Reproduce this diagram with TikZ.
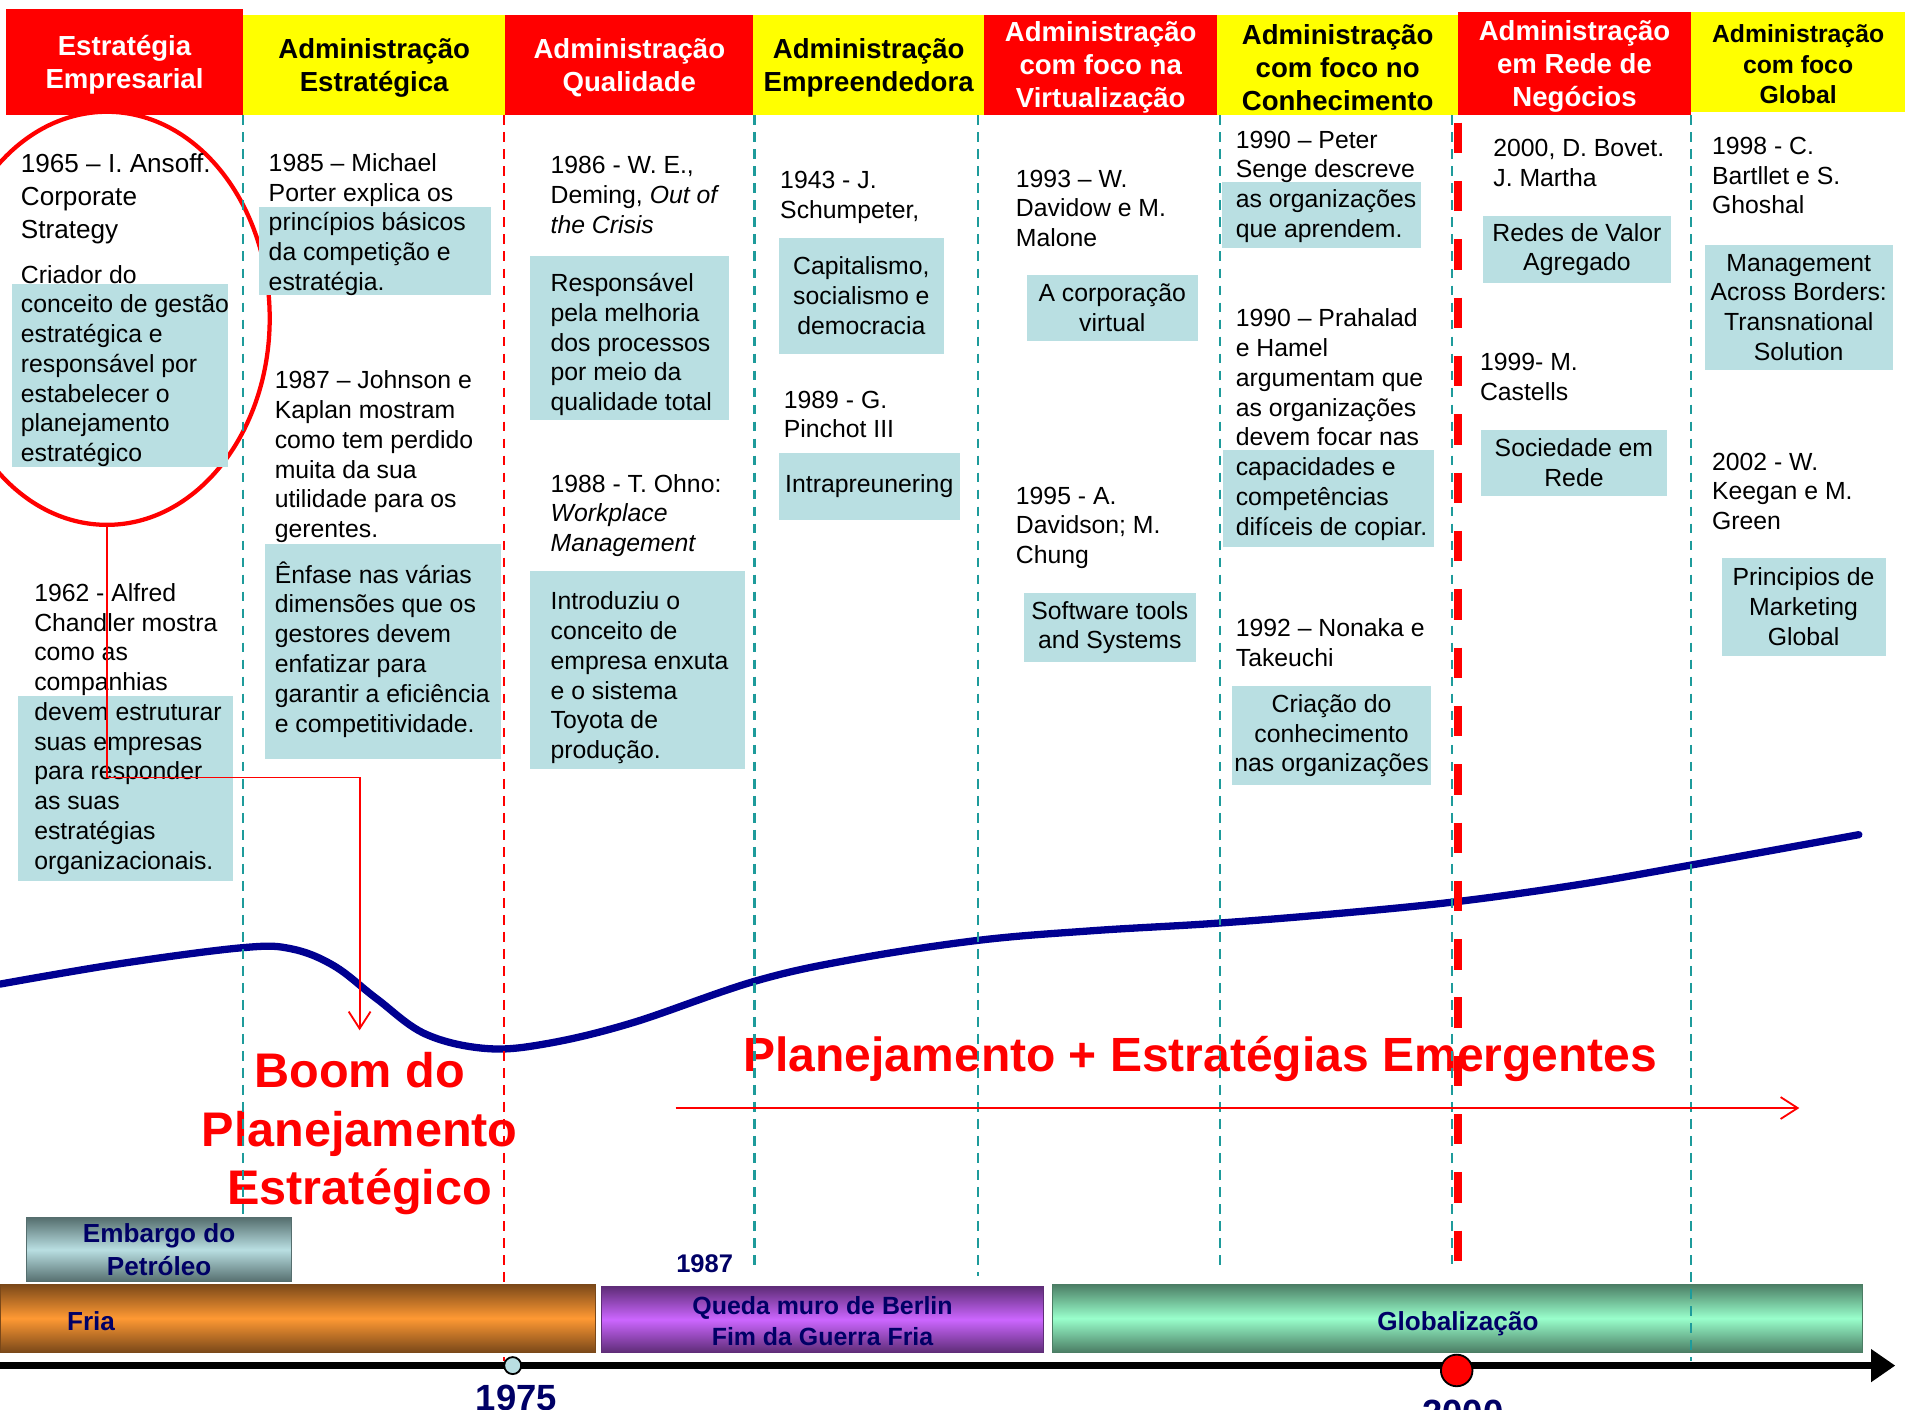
\documentclass[tikz,border=0pt]{standalone}
\usepackage{fontspec}
\setmainfont{Liberation Sans}
\usetikzlibrary{shapes.geometric,arrows.meta}

\definecolor{hdrred}{RGB}{255,0,0}
\definecolor{hdryel}{RGB}{255,255,0}
\definecolor{noteblue}{RGB}{185,223,226}
\definecolor{gridteal}{RGB}{30,155,155}
\definecolor{curveblue}{RGB}{0,0,145}
\definecolor{labelnavy}{RGB}{0,0,102}
\definecolor{friadark}{RGB}{122,72,25}
\definecolor{friamid}{RGB}{255,153,51}
\definecolor{quedadark}{RGB}{95,45,120}
\definecolor{quedamid}{RGB}{204,102,255}
\definecolor{globdark}{RGB}{75,125,100}
\definecolor{globmid}{RGB}{153,255,204}
\definecolor{embdark}{RGB}{85,110,110}

\tikzset{
  hdrbox/.style={inner sep=0},
  hdrtxt/.style={inner sep=0, align=center, font=\bfseries\fontsize{22.7}{27}\selectfont},
  bodytxt/.style={anchor=base west, align=left, inner sep=0, font=\fontsize{20.4}{24.5}\selectfont},
  notebox/.style={fill=noteblue, inner sep=0, align=center, font=\fontsize{20.4}{24.5}\selectfont},
  gridline/.style={gridteal, line width=1.8, dash pattern=on 8 off 6},
  gridred/.style={red, line width=1.8, dash pattern=on 8 off 6},
  bigred/.style={text=red, inner sep=0, align=center, font=\bfseries\fontsize{40}{48}\selectfont},
  barbox/.style={inner sep=0, shading=axis, draw=#1, line width=1},
  barlabel/.style={text=labelnavy, inner sep=0, align=center, font=\bfseries\fontsize{20.5}{25}\selectfont},
  redarrow/.style={red, line width=1.5, -{Straight Barb[length=14,width=18]}},
}

\begin{document}
\begin{tikzpicture}[x=1pt,y=-1pt]
\useasboundingbox (0,0) rectangle (1568,1160);
\fill[white] (0,0) rectangle (1568,1160);

% column headers (box, then its title slightly lowered)
\node[hdrbox, fill=hdrred, minimum width=195, minimum height=88] (h1) at (102.5,51) {};
\node[hdrbox, fill=hdryel, minimum width=216, minimum height=83] (h2) at (308,53.5) {};
\node[hdrbox, fill=hdrred, minimum width=204, minimum height=83] (h3) at (518,53.5) {};
\node[hdrbox, fill=hdryel, minimum width=190, minimum height=83] (h4) at (715,53.5) {};
\node[hdrbox, fill=hdrred, minimum width=192, minimum height=83] (h5) at (906,53.5) {};
\node[hdrbox, fill=hdryel, minimum width=198, minimum height=83] (h6) at (1101,53.5) {};
\node[hdrbox, fill=hdrred, minimum width=192, minimum height=85] (h7) at (1296,52.5) {};
\node[hdrbox, fill=hdryel, minimum width=176, minimum height=82] (h8) at (1480,51) {};
\node[hdrtxt, text=white] (h1t) at ([yshift=-2.5pt]h1.center) {Estratégia\\Empresarial};
\node[hdrtxt, text=black] (h2t) at ([yshift=-2.5pt]h2.center) {Administração\\Estratégica};
\node[hdrtxt, text=white] (h3t) at ([yshift=-2.5pt]h3.center) {Administração\\Qualidade};
\node[hdrtxt, text=black] (h4t) at ([yshift=-2.5pt]h4.center) {Administração\\Empreendedora};
\node[hdrtxt, text=white] (h5t) at ([yshift=-2pt]h5.center) {Administração\\com foco na\\Virtualização};
\node[hdrtxt, text=black] (h6t) at ([yshift=-2pt]h6.center) {Administração\\com foco no\\Conhecimento};
\node[hdrtxt, text=white] (h7t) at ([yshift=-2pt]h7.center) {Administração\\em Rede de\\Negócios};
\node[hdrtxt, text=black, font=\bfseries\fontsize{20.4}{25}\selectfont] (h8t) at ([yshift=-2pt]h8.center) {Administração\\com foco\\Global};

% highlight ring around Ansoff
\node[ellipse, draw=red, line width=3.5, fill=white, inner sep=0,
      minimum width=268, minimum height=340] (ell) at (88,262) {};

% shaded backgrounds behind left-aligned notes
\fill[noteblue] (10,234) rectangle (188,384);
\fill[noteblue] (15,573) rectangle (192,725);
\fill[noteblue] (213,170) rectangle (404,243);
\fill[noteblue] (218,448) rectangle (412,625);
\fill[noteblue] (436,211) rectangle (600,346);
\fill[noteblue] (436,470) rectangle (613,633);
\fill[noteblue] (1006,150) rectangle (1170,204);
\fill[noteblue] (1007,370) rectangle (1180,450);

% notes: each node is placed by the baseline of its last line
% column 1
\node[bodytxt, font=\fontsize{21.5}{27}\selectfont] (t1) at (17,196) {1965 – I. Ansoff.\\Corporate\\Strategy};
\node[bodytxt] (t2) at (17,380) {Criador do\\conceito de gestão\\estratégica e\\responsável por\\estabelecer o\\planejamento\\estratégico};
\node[bodytxt] (t3) at (28,715.5) {1962 - Alfred\\Chandler mostra\\como as\\companhias\\devem estruturar\\suas empresas\\para responder\\as suas\\estratégias\\organizacionais.};
% column 2
\node[bodytxt] (t4) at (221,239) {1985 – Michael\\Porter explica os\\princípios básicos\\da competição e\\estratégia.};
\node[bodytxt] (t5) at (226,442.5) {1987 – Johnson e\\Kaplan mostram\\como tem perdido\\muita da sua\\utilidade para os\\gerentes.};
\node[bodytxt] (t6) at (226,602.5) {Ênfase nas várias\\dimensões que os\\gestores devem\\enfatizar para\\garantir a eficiência\\e competitividade.};
% column 3
\node[bodytxt] (t7) at (453,192) {1986 - W. E.,\\Deming, \textit{Out of}\\\textit{the Crisis}};
\node[bodytxt] (t8) at (453,338) {Responsável\\pela melhoria\\dos processos\\por meio da\\qualidade total};
\node[bodytxt] (t9) at (453,454) {1988 - T. Ohno:\\\textit{Workplace}\\\textit{Management}};
\node[bodytxt] (t10) at (453,624.5) {Introduziu o\\conceito de\\empresa enxuta\\e o sistema\\Toyota de\\produção.};
% column 4
\node[bodytxt] (t11) at (642,179.5) {1943 - J.\\Schumpeter,};
\node[notebox, minimum width=136, minimum height=95] (n11) at (709,243.5) {Capitalismo,\\socialismo e\\democracia};
\node[bodytxt] (t12) at (645,360.5) {1989 - G.\\Pinchot III};
\node[notebox, minimum width=149, minimum height=55] (n12) at (715.5,400.5) {Intrapreunering};
% column 5
\node[bodytxt] (t13) at (836,203) {1993 – W.\\Davidow e M.\\Malone};
\node[notebox, minimum width=141, minimum height=55] (n13) at (915.5,253.5) {A corporação\\virtual};
\node[bodytxt] (t14) at (836,464) {1995 - A.\\Davidson; M.\\Chung};
\node[notebox, minimum width=141, minimum height=57] (n14) at (913.5,516.5) {Software tools\\and Systems};
% column 6
\node[bodytxt] (t15) at (1017,195.5) {1990 – Peter\\Senge descreve\\as organizações\\que aprendem.};
\node[bodytxt] (t16) at (1017,440.5) {1990 – Prahalad\\e Hamel\\argumentam que\\as organizações\\devem focar nas\\capacidades e\\competências\\difíceis de copiar.};
\node[bodytxt] (t17) at (1017,548.5) {1992 – Nonaka e\\Takeuchi};
\node[notebox, minimum width=164, minimum height=81] (n17) at (1096,605.5) {Criação do\\conhecimento\\nas organizações};
% column 7
\node[bodytxt] (t18) at (1229,153.5) {2000, D. Bovet.\\J. Martha};
\node[notebox, minimum width=154, minimum height=55] (n18) at (1298,205.5) {Redes de Valor\\Agregado};
\node[bodytxt] (t19) at (1218,329.5) {1999- M.\\Castells};
\node[notebox, minimum width=153, minimum height=54] (n19) at (1295.5,381) {Sociedade em\\Rede};
% column 8
\node[bodytxt] (t20) at (1409,176) {1998 - C.\\Bartllet e S.\\Ghoshal};
\node[notebox, minimum width=155, minimum height=103] (n20) at (1480.5,253) {Management\\Across Borders:\\Transnational\\Solution};
\node[bodytxt] (t21) at (1409,436) {2002 - W.\\Keegan e M.\\Green};
\node[notebox, minimum width=135, minimum height=81] (n21) at (1484.5,499.5) {Principios de\\Marketing\\Global};

% era captions
\node[bigred] (boom) at (296,933) {Boom do\\Planejamento\\Estratégico};
\node[bigred, font=\bfseries\fontsize{39.5}{48}\selectfont] (emerg) at (988,872) {Planejamento + Estratégias Emergentes};

% planning curve
\draw[curveblue, line width=6, line cap=round] plot[smooth, tension=0.6] coordinates {
  (0,810) (100,793) (200,780) (240,781) (275,795) (310,822) (350,851) (400,863)
  (450,859) (520,842) (620,808) (700,790) (805,774) (900,766) (1000,760)
  (1100,752) (1200,742) (1300,728) (1392,712) (1530,687)};

% column separators
\draw[gridline] (200,95) -- (200,1050);
\draw[gridred] (415,95) -- (415,1120);
\draw[gridline] (621,95) -- (621,1045);
\draw[gridline] (805,95) -- (805,1050);
\draw[gridline] (1004,95) -- (1004,1045);
\draw[gridline] (1195,95) -- (1195,1040);
\draw[red, line width=6, dash pattern=on 25 off 23] (1200,101) -- (1200,1040);

% historical context bars
\node[barbox=embdark, top color=embdark, bottom color=embdark, middle color=noteblue,
      minimum width=218, minimum height=53, barlabel, font=\bfseries\fontsize{21.5}{27}\selectfont] (embargo) at (131,1028.5) {Embargo do\\Petróleo};
\node[barlabel, font=\bfseries\fontsize{21}{25}\selectfont] (y1987) at (580,1040) {1987};
\node[barbox=friadark, top color=friadark, bottom color=friadark, middle color=friamid,
      minimum width=490, minimum height=56] (fria) at (245,1085) {};
\node[barlabel, anchor=base west, font=\bfseries\fontsize{21.5}{25}\selectfont] (friatxt) at (55,1095) {Fria};
\node[barbox=quedadark, top color=quedadark, bottom color=quedadark, middle color=quedamid,
      minimum width=364, minimum height=54] (queda) at (677,1086) {};
\node[barlabel] (quedatxt) at ([yshift=-1.5pt]queda.center) {Queda muro de Berlin\\Fim da Guerra Fria};
\node[barbox=globdark, top color=globdark, bottom color=globdark, middle color=globmid,
      minimum width=667, minimum height=56] (glob) at (1199.5,1085) {};
\node[barlabel, anchor=base, font=\bfseries\fontsize{21.5}{25}\selectfont] (globtxt) at (1200,1095) {Globalização};
\draw[gridline] (1392,95) -- (1392,1120);

% arrows
\coordinate (boomBend) at (296,640);
\coordinate (boomTip) at (296,848);
\draw[redarrow] (ell.south) |- (boomBend) -- (boomTip);
\coordinate (emergStart) at (556,912);
\coordinate (emergEnd) at (1481,912);
\draw[redarrow] (emergStart) -- (emergEnd);

% time axis
\coordinate (axL) at (0,1124);
\coordinate (axR) at (1560,1124);
\draw[black, line width=6, -{Triangle[length=20,width=26]}] (axL) -- (axR);
\node[circle, draw=black, line width=1.5, fill=noteblue, minimum size=14, inner sep=0] (m1975) at (422,1124) {};
\node[circle, draw=black, line width=1.5, fill=red, minimum size=26, inner sep=0] (m2000) at (1199,1128) {};
\node[text=labelnavy, inner sep=0, font=\bfseries\fontsize{30}{30}\selectfont] (l1975) at (425,1151) {1975};
\node[text=labelnavy, inner sep=0, font=\bfseries\fontsize{30}{30}\selectfont] (l2000) at (1204,1163) {2000};
\end{tikzpicture}
\end{document}
